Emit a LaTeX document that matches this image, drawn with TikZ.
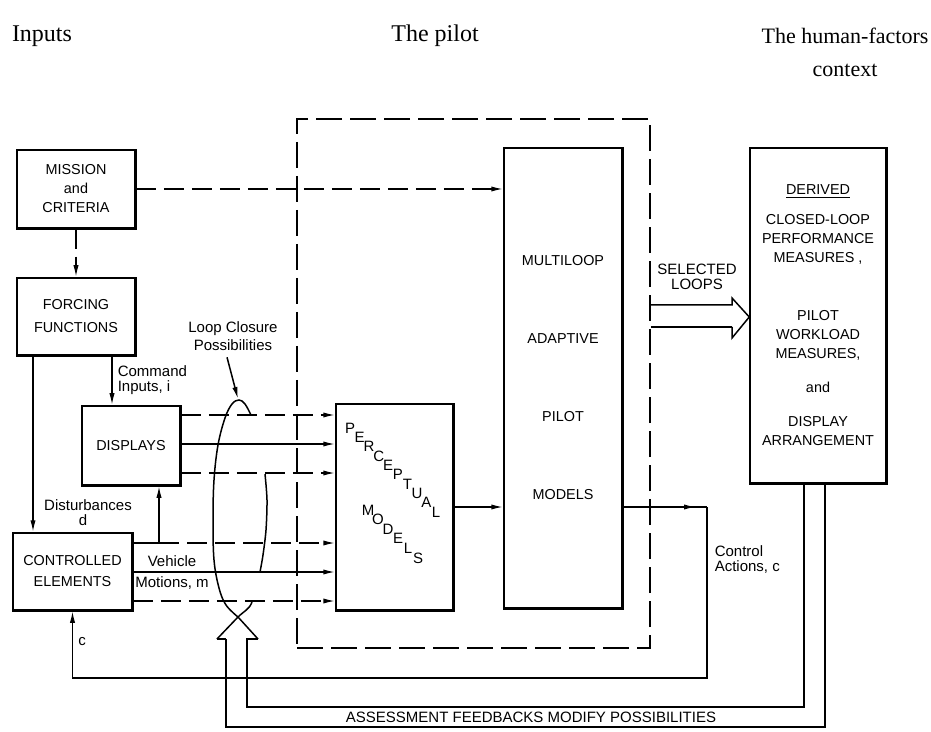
\documentclass[tikz,border=0pt]{standalone}
\usepackage{fontspec}
\setmainfont{Liberation Serif}
\setsansfont{Liberation Sans}
\usetikzlibrary{arrows.meta}

\tikzset{
  blk/.style={draw, line width=0.75pt, inner sep=0pt, align=center,
    font=\sffamily\fontsize{7.2}{9.5}\selectfont},
  lbl/.style={inner sep=0pt, align=center, font=\sffamily\fontsize{7.5}{7.5}\selectfont},
  hdr/.style={inner sep=0pt, align=center, font=\fontsize{12}{16.5}\selectfont},
  arr/.style={-{Latex[length=6pt,width=2.6pt]}},
  dsh/.style={dash pattern=on 10pt off 4pt},
  shadowline/.style={line width=1.6pt},
}

\begin{document}
\begin{tikzpicture}[x=0.5pt,y=-0.5pt,line width=0.75pt]
\useasboundingbox (0,0) rectangle (931,732);

% column headings
\node[hdr] (hin) at (42,36) {Inputs};
\node[hdr] (hpilot) at (435,36) {The pilot};
\node[hdr, font=\fontsize{11}{16.5}\selectfont] (hctx) at (845,52) {The human-factors\\context};

% blocks
\node[blk, minimum width=59pt, minimum height=39pt] (mission) at (76,189) {MISSION\\and\\CRITERIA};
\node[blk, minimum width=59pt, minimum height=38.5pt] (forcing) at (76,316.5) {FORCING\\[2pt]FUNCTIONS};
\node[blk, minimum width=49pt, minimum height=39.5pt] (displays) at (131,445.5) {DISPLAYS};
\node[blk, minimum width=59.5pt, minimum height=38.5pt] (ctrl) at (72.5,571.5) {CONTROLLED\\[1pt]ELEMENTS};
\node[blk, minimum width=58.5pt, minimum height=103pt] (percept) at (394.5,507) {};
\node[blk, minimum width=59pt, minimum height=230pt] (pilot) at (563,378)
  {MULTILOOP\\[29.5pt]ADAPTIVE\\[29.5pt]PILOT\\[29.5pt]MODELS};
\node[blk, minimum width=68pt, minimum height=167.5pt] (derived) at (818,315.5)
  {\underline{DERIVED}\\[5.5pt]CLOSED-LOOP\\PERFORMANCE\\MEASURES ,\\[19.5pt]PILOT\\WORKLOAD\\MEASURES,\\[7.5pt]and\\[7.5pt]DISPLAY\\ARRANGEMENT};
\node[draw, dash pattern=on 13pt off 4pt, inner sep=0pt, minimum width=176.5pt, minimum height=264.5pt] (pilotzone) at (473.5,383.5) {};

\foreach \b in {mission,forcing,displays,ctrl,percept,pilot,derived}
  \draw[shadowline] (\b.north east) -- (\b.south east) -- (\b.south west);

% diagonal lettering
\foreach \c [count=\i from 0] in {P,E,R,C,E,P,T,U,A,L}
  \node[lbl] (pc\i) at (350+9.56*\i,428+9.33*\i) {\c};
\foreach \c [count=\i from 0] in {M,O,D,E,L,S}
  \node[lbl] (mc\i) at (368+10*\i,510+9.6*\i) {\c};

% labels
\node[lbl] (loop) at (233,336) {Loop Closure\\[1.5pt]Possibilities};
\node[lbl, align=left, anchor=west] (cmd) at (117,380) {Command\\Inputs, i};
\node[lbl] (dist) at (88,505) {Disturbances};
\node[lbl] (distd) at (83,520) {d};
\node[lbl] (veh) at (172,561) {Vehicle};
\node[lbl] (mot) at (172,583) {Motions, m};
\node[lbl, align=left, anchor=west] (cact) at (714,560) {Control\\Actions, c};
\node[lbl] (cfb) at (82,642) {c};
\node[lbl] (sel) at (697,277) {SELECTED\\LOOPS};
\node[lbl] (assess) at (531,717) {ASSESSMENT FEEDBACKS MODIFY POSSIBILITIES};

% input side connectors
\coordinate (ld) at (33,0);
\coordinate (lc) at (112,0);
\coordinate (lu) at (159,0);
\draw[arr,dsh] (mission.south) -- (forcing.north);
\draw[arr,dsh] (mission.east) -- (mission.east -| pilot.west);
\draw[arr] (forcing.south -| ld) -- (ctrl.north -| ld);
\draw[arr] (forcing.south -| lc) -- (displays.north -| lc);
\draw (ctrl.east |- 0,543) -- (lu |- 0,543);
\draw[arr] (lu |- 0,543) -- (lu |- displays.south);
\draw[arr,dsh] (lu |- 0,543) -- (percept.west |- 0,543);
\foreach \y/\s in {415/dsh,444/solid,473/dsh}
  \draw[arr,\s] (displays.east |- 0,\y) -- (percept.west |- 0,\y);
\foreach \y/\s in {572/solid,601/dsh}
  \draw[arr,\s] (ctrl.east |- 0,\y) -- (percept.west |- 0,\y);
\draw[arr] (percept.east) -- (percept.east -| pilot.west);

% control actions loop
\coordinate (ca) at (707,507);
\draw[arr] (percept.east -| pilot.east) -- (696,507);
\draw (percept.east -| pilot.east) -- (ca);
\draw[arr] (ca) -- (ca |- 0,678) -| (ctrl.south);

% loop closure possibilities
\draw[arr] ([xshift=-3pt,yshift=-3pt]loop.south) -- (238,399);
\draw (258,639) -- (238,617) -- plot[smooth, tension=0.6] coordinates {(238,617) (226,605) (219,588) (214,560) (213,520) (214,480) (218,445) (225,418) (232,404) (239,400) (245,404) (251,415)};
\draw plot[smooth] coordinates {(265,474) (267,500) (266,530) (263,555) (260,572)};
\draw (217,639) -- (238,617) to[out=45,in=-110] (252,602);

% assessment feedbacks
\coordinate (fbin) at (804,0);
\coordinate (fbout) at (825,0);
\draw (derived.south -| fbin) |- (247,707) -- (247,639) -- (258,639);
\draw[line width=1.1pt] (derived.south -| fbout) |- (226,727) -- (226,639);
\draw (226,639) -- (217,639);

% selected loops
\draw (pilotzone.east |- 0,305) -- (732,305) -- (732,298) -- (derived.west |- 0,317) -- (732,338) -- (732,327);
\draw[line width=1.3pt] (732,327) -- (pilotzone.east |- 0,327);
\end{tikzpicture}
\end{document}
